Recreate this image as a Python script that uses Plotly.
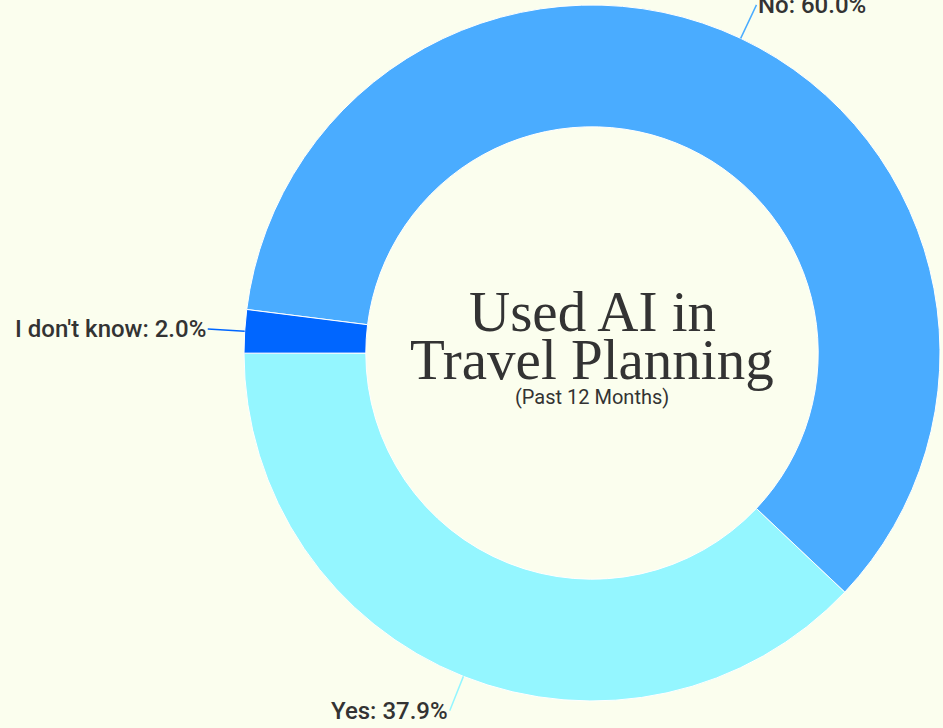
import math
import plotly.graph_objects as go

labels = ["Yes", "No", "I don't know"]
values = [37.9, 60.0, 2.0]
colors = ["#94F6FF", "#4AACFF", "#0066FF"]

bg = "#FBFEEE"
rotation = 133.4  # start angle, clockwise from 12 o'clock
lead = 37         # leader length in px

fig = go.Figure(go.Pie(
    labels=labels, values=values, hole=0.65, sort=False,
    direction="counterclockwise", rotation=rotation,
    marker=dict(colors=colors, line=dict(color="#FFFFFF", width=1)),
    textinfo="none", showlegend=False, hoverinfo="label+value",
))

# outside labels with radial leader lines, from the slice mid angles
total = sum(values)
start = rotation + 360 * values[0] / total
cum = 0
for lab, val, col in zip(labels, values, colors):
    a = 360 * val / total
    mid = math.radians(start - cum - a / 2)
    cum += a
    s, c = math.sin(mid), math.cos(mid)
    fig.add_annotation(
        text=f"{lab}: {val:.1f}%", xref="paper", yref="paper",
        x=0.5 + 0.5 * s, y=0.5 + 0.5 * c, ax=lead * s, ay=-lead * c,
        xanchor="left" if s > 0 else "right", yanchor="middle",
        showarrow=True, arrowhead=0, arrowwidth=1.5, arrowcolor=col,
        font=dict(family="Roboto", size=24, color="#333333", weight=500),
    )

# center title
fig.add_annotation(text="Used AI in", x=0.5, y=0.560, xref="paper", yref="paper",
                   showarrow=False, font=dict(family="Liberation Serif", size=57, color="#333333"))
fig.add_annotation(text="Travel Planning", x=0.5, y=0.490, xref="paper", yref="paper",
                   showarrow=False, font=dict(family="Liberation Serif", size=57, color="#333333"))
fig.add_annotation(text="(Past 12 Months)", x=0.5, y=0.437, xref="paper", yref="paper",
                   showarrow=False, font=dict(family="Roboto", size=20, color="#333333"))

fig.update_layout(
    width=943, height=728,
    margin=dict(l=244, r=3, t=5, b=27),
    paper_bgcolor=bg, plot_bgcolor=bg,
)

fig.write_html("out.html", config={"displayModeBar": False},
               post_script="document.body.style.margin='0';document.body.style.background='" + bg + "';")
